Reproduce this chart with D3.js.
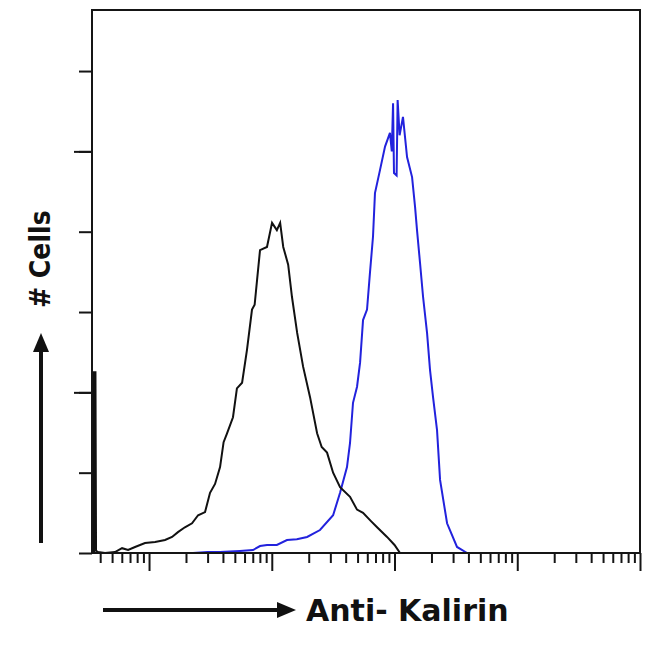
<!DOCTYPE html>
<html>
<head>
<meta charset="utf-8">
<script src="https://cdn.jsdelivr.net/npm/d3@7"></script>
<style>
  html, body { margin: 0; padding: 0; background: #fff; }
  svg { display: block; }
  .lbl { font-family: "DejaVu Sans Condensed", "DejaVu Sans", sans-serif; font-weight: bold; fill: #111; }
  .lblx { font-family: "DejaVu Sans", sans-serif; font-weight: bold; fill: #111; }
</style>
</head>
<body>
<svg id="chart" width="650" height="648"></svg>
<script>
// ---------- data ----------
const xLabel = "Anti- Kalirin";
const yLabel = "# Cells";

// isotype control (black) histogram: fluorescence intensity and cell count
const blackIntensity = [3.43, 3.66, 3.70, 3.84, 4.38, 5.28, 6.03, 6.75, 7.69, 9.27, 11.2, 13.5, 15.4, 17.2, 19.6, 22.4, 25.1, 28.6, 31.4, 34.5, 37.9, 40.5, 43.2, 48.3, 52.0, 57.3, 62.8, 69.0, 72.5, 75.9, 80.2, 91.4, 100.5, 110, 117, 124, 136, 146, 161, 180, 205, 234, 255, 282, 316, 360, 434, 495, 554, 640, 721, 869, 1000, 1109, 1172];
const blackCount     = [22.5, 22.5, 0.3, 0.12, 0.0, 0.12, 0.6, 0.37, 0.75, 1.25, 1.37, 1.62, 2.0, 2.6, 3.2, 3.7, 4.7, 5.1, 7.5, 8.6, 10.7, 13.8, 14.9, 16.9, 20.5, 21.2, 25.3, 30.3, 30.9, 34.0, 37.7, 38.1, 41.1, 40.2, 41.1, 38.1, 35.9, 31.9, 27.4, 23.2, 19.4, 14.9, 13.2, 12.5, 10.0, 8.2, 7.0, 5.4, 5.0, 4.0, 3.2, 2.0, 1.0, 0.0, 0.0];

// anti-Kalirin (blue) histogram
const blueIntensity = [3.43, 3.60, 22.8, 30, 37.9, 55, 70.3, 80.2, 91.4, 110, 133, 160, 194, 247, 316, 360, 410, 434, 459, 495, 524, 554, 597, 631, 668, 693, 762, 837, 918, 950, 973, 990, 1040, 1060, 1100, 1172, 1265, 1390, 1470, 1525, 1614, 1708, 1841, 1946, 2060, 2220, 2350, 2680, 3230, 3900];
const blueCount     = [0.4, 0.0, 0.0, 0.12, 0.12, 0.25, 0.37, 0.87, 1.0, 1.0, 1.62, 1.7, 2.0, 2.86, 4.7, 7.5, 10.7, 13.7, 18.7, 20.7, 23.7, 29.0, 30.3, 34.9, 39.4, 44.8, 47.7, 50.6, 52.3, 50.0, 56.0, 47.3, 47.0, 56.4, 52.0, 54.3, 49.3, 46.8, 43.1, 40.2, 36.1, 31.9, 27.4, 22.8, 19.4, 15.3, 9.1, 3.7, 0.75, 0.0];

// axes
const xDomain = [3.43, 100000];
const yDomain = [0, 67.6];
const yTickValues = [0, 10, 20, 30, 40, 50, 60];
const yLongTicks = [20, 50];
const xMajorTicks = [10, 100, 1000, 10000, 100000];
const xMinorTicks = [4, 5, 6, 7, 8, 9,
  20, 30, 40, 50, 60, 70, 80, 90,
  200, 300, 400, 500, 600, 700, 800, 900,
  2000, 3000, 4000, 5000, 6000, 7000, 8000, 9000,
  20000, 30000, 40000, 50000, 60000, 70000, 80000, 90000];

// ---------- drawing ----------
const svg = d3.select("#chart");
svg.append("rect").attr("width", 650).attr("height", 648).attr("fill", "#fff");

const mLeft = 92, mRight = 640, mTop = 10, mBottom = 553;
const x = d3.scaleLog().domain(xDomain).range([mLeft, mRight]);
const y = d3.scaleLinear().domain(yDomain).range([mBottom, mTop]);

const ink = "#151515";

// x axis ticks
const gxMinor = svg.append("g").attr("transform", `translate(0,${mBottom})`)
  .call(d3.axisBottom(x).tickValues(xMinorTicks).tickSize(10).tickFormat(""));
const gxMajor = svg.append("g").attr("transform", `translate(0,${mBottom})`)
  .call(d3.axisBottom(x).tickValues(xMajorTicks).tickSize(18).tickFormat(""));
[gxMinor, gxMajor].forEach(g => {
  g.select(".domain").remove();
  g.selectAll("line").attr("stroke", ink).attr("stroke-width", 2);
});

// y axis ticks
const gy = svg.append("g").attr("transform", `translate(${mLeft},0)`)
  .call(d3.axisLeft(y).tickValues(yTickValues).tickSize(13).tickFormat(""));
const gyLong = svg.append("g").attr("transform", `translate(${mLeft},0)`)
  .call(d3.axisLeft(y).tickValues(yLongTicks).tickSize(18).tickFormat(""));
[gy, gyLong].forEach(g => {
  g.select(".domain").remove();
  g.selectAll("line").attr("stroke", ink).attr("stroke-width", 2);
});

// histograms
const line = d3.line().x(d => x(d[0])).y(d => y(d[1])).curve(d3.curveLinear);
const blueData = blueIntensity.map((v, i) => [v, blueCount[i]]);
const blackData = blackIntensity.map((v, i) => [v, blackCount[i]]);

svg.append("path").datum(blueData).attr("d", line)
  .attr("fill", "none").attr("stroke", "#2222dd").attr("stroke-width", 2);
svg.append("path").datum(blackData).attr("d", line)
  .attr("fill", "none").attr("stroke", "#111").attr("stroke-width", 2);

// left spike thickness (first bin)
svg.append("rect")
  .attr("x", x(blackIntensity[0])).attr("y", y(blackCount[0]))
  .attr("width", x(blackIntensity[1]) - x(blackIntensity[0]))
  .attr("height", y(0) - y(blackCount[0]))
  .attr("fill", "#111");

// frame
svg.append("rect").attr("x", mLeft).attr("y", mTop)
  .attr("width", mRight - mLeft).attr("height", mBottom - mTop)
  .attr("fill", "none").attr("stroke", ink).attr("stroke-width", 2);

// x label with arrow
svg.append("line").attr("x1", 103).attr("y1", 610).attr("x2", 280).attr("y2", 610)
  .attr("stroke", "#111").attr("stroke-width", 4);
svg.append("path").attr("d", "M277,602 L296,610 L277,618 Z").attr("fill", "#111");
svg.append("text").attr("class", "lblx").attr("x", 306).attr("y", 621)
  .attr("font-size", 30).text(xLabel);

// y label with arrow
svg.append("line").attr("x1", 41).attr("y1", 543).attr("x2", 41).attr("y2", 350)
  .attr("stroke", "#111").attr("stroke-width", 4);
svg.append("path").attr("d", "M33,352 L41,333 L49,352 Z").attr("fill", "#111");
svg.append("text").attr("class", "lbl")
  .attr("transform", "translate(50,308) rotate(-90)")
  .attr("font-size", 28).text(yLabel);
</script>
</body>
</html>
